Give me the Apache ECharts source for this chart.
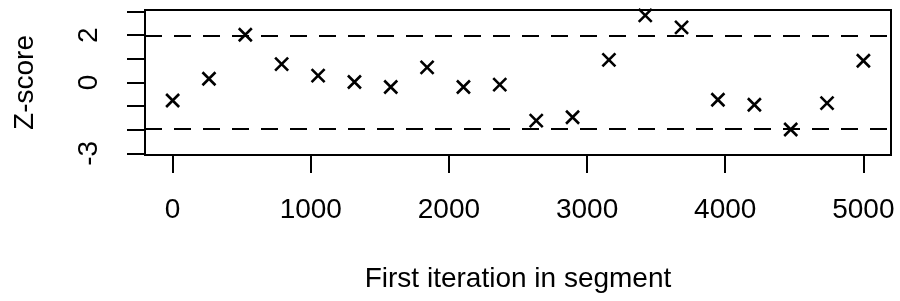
<!DOCTYPE html>
<html>
<head>
    <meta charset="UTF-8">
    <title>Geweke plot</title>
    <script src="https://cdn.jsdelivr.net/npm/echarts@6/dist/echarts.min.js"></script>
    <style>
        html, body { margin: 0; padding: 0; background: #fff; }
    </style>
</head>
<body>
<div id="container" style="width: 900px; height: 301px;"></div>
<script>

    // first iteration of each segment and its z-score
    var starts = [0, 263, 526, 789, 1053, 1316, 1579, 1842, 2105, 2368,
                  2632, 2895, 3158, 3421, 3684, 3947, 4211, 4474, 4737, 5000];
    var zscores = [-0.76, 0.16, 2.02, 0.78, 0.29, 0.02, -0.19, 0.64, -0.19, -0.09,
                   -1.61, -1.47, 0.96, 2.84, 2.33, -0.73, -0.94, -1.99, -0.87, 0.92];

    // ticks and labels
    var xTicks = [0, 1000, 2000, 3000, 4000, 5000];
    var yTicks = [-3, -2, -1, 0, 1, 2, 3];
    var yLabels = [-3, 0, 2];
    var bounds = [-1.96, 1.96];

    var points = [];
    for (var i = 0; i < starts.length; i++) {
        points.push([starts[i], zscores[i]]);
    }

    var font = 'Liberation Sans';
    var plain = function (v) { return String(v); };
    var mychart = echarts.init(document.getElementById("container"));

    var option = {
        animation: false,
        grid: {
            left: 145, right: 9, top: 10, bottom: 146,
            show: true,
            borderColor: '#000',
            borderWidth: 2,
            backgroundColor: 'transparent'
        },
        xAxis: {
            type: 'value',
            min: -200,
            max: 5200,
            name: 'First iteration in segment',
            nameLocation: 'middle',
            nameGap: 110,
            nameTextStyle: { fontFamily: font, fontSize: 28, color: '#000' },
            axisLine: { show: false, onZero: false },
            splitLine: { show: false },
            axisTick: {
                customValues: xTicks,
                length: 18,
                lineStyle: { color: '#000', width: 2 }
            },
            axisLabel: {
                customValues: xTicks,
                formatter: plain,
                margin: 41,
                fontFamily: font, fontSize: 28, color: '#000'
            }
        },
        yAxis: {
            type: 'value',
            min: -3.067,
            max: 3.067,
            name: 'Z-score',
            nameLocation: 'middle',
            nameGap: 106,
            nameTextStyle: { fontFamily: font, fontSize: 28, color: '#000' },
            axisLine: { show: false, onZero: false },
            splitLine: { show: false },
            axisTick: {
                customValues: yTicks,
                length: 18,
                lineStyle: { color: '#000', width: 2 }
            },
            axisLabel: {
                customValues: yLabels,
                formatter: plain,
                rotate: 90,
                margin: 42,
                fontFamily: font, fontSize: 28, color: '#000'
            }
        },
        series: [{
            type: 'scatter',
            data: points,
            symbol: 'path://M0,0L10,10M10,0L0,10',
            symbolSize: 13,
            itemStyle: { color: 'none', borderColor: '#000', borderWidth: 2.6, opacity: 1 },
            markLine: {
                silent: true,
                symbol: ['none', 'none'],
                label: { show: false },
                lineStyle: { color: '#000', width: 2, type: [17, 12], opacity: 1 },
                data: [{ yAxis: bounds[0] }, { yAxis: bounds[1] }]
            }
        }]
    };

    mychart.setOption(option);

</script>
</body>
</html>
